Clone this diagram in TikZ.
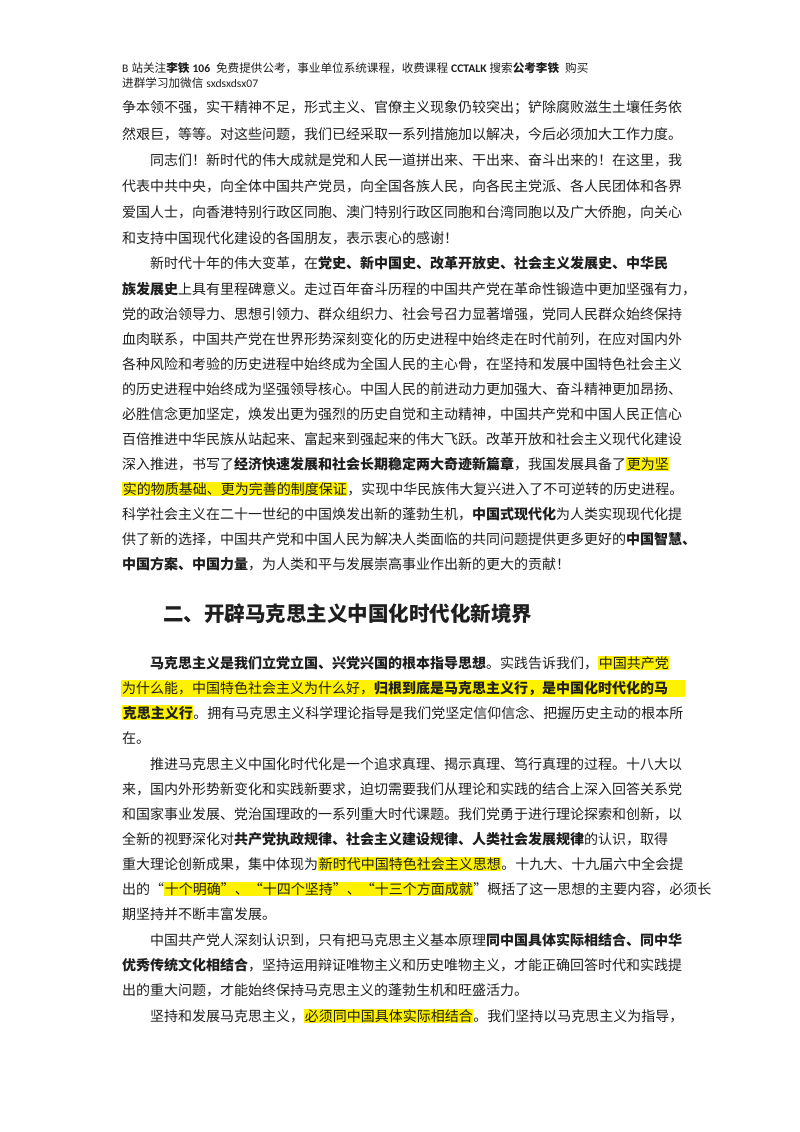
\documentclass[tikz,border=0pt]{standalone}
\usepackage{fontspec}
\usepackage{xcolor}
\setmainfont{Noto Sans CJK SC}
\newfontfamily\hdlat{Carlito}
\XeTeXlinebreaklocale "zh"
\XeTeXlinebreakskip=0pt plus 3pt
\newcommand\hl[1]{{\fboxsep=0.6pt\colorbox{yellow}{#1}}}
\newcommand\fl[3]{\node[txt] (#1) at (122,-#2) {\hbox to 562pt{#3}};}
\newcommand\il[3]{\node[txt] (#1) at (150,-#2) {\hbox to 534pt{#3}};}
\newcommand\nl[4]{\node[txt] (#1) at (#2,-#3) {#4};}
\begin{document}
\begin{tikzpicture}[x=1pt,y=1pt,txt/.style={anchor=base west,inner sep=0,font=\fontsize{14pt}{16pt}\selectfont,text=black!88}]
\useasboundingbox (0,0) rectangle (800,-1132);
\fill[white] (0,0) rectangle (800,-1132);
\nl{h1}{122}{72}{\fontsize{11.6pt}{13pt}\selectfont {\hdlat B}\hspace{3pt}站关注\textbf{李铁\hspace{3pt}{\hdlat 106}}\hspace{6pt}免费提供公考，事业单位系统课程，收费课程\hspace{3pt}\textbf{\hdlat CCTALK}\hspace{3pt}搜索\textbf{公考李铁}\hspace{6pt}购买}
\nl{h2}{122}{88}{\fontsize{11.6pt}{13pt}\selectfont 进群学习加微信\hspace{3pt}{\hdlat sxdsxdsx07}}
\fl{l1}{112}{争本领不强，实干精神不足，形式主义、官僚主义现象仍较突出；铲除腐败滋生土壤任务依}
\fl{l2}{139}{然艰巨，等等。对这些问题，我们已经采取一系列措施加以解决，今后必须加大工作力度。}
\il{l3}{165}{同志们！新时代的伟大成就是党和人民一道拼出来、干出来、奋斗出来的！在这里，我}
\fl{l4}{191}{代表中共中央，向全体中国共产党员，向全国各族人民，向各民主党派、各人民团体和各界}
\fl{l5}{217}{爱国人士，向香港特别行政区同胞、澳门特别行政区同胞和台湾同胞以及广大侨胞，向关心}
\nl{l6}{122}{243}{和支持中国现代化建设的各国朋友，表示衷心的感谢！}
\il{l7}{268}{新时代十年的伟大变革，在\textbf{党史、新中国史、改革开放史、社会主义发展史、中华民}}
\fl{l8}{294}{\textbf{族发展史}上具有里程碑意义。走过百年奋斗历程的中国共产党在革命性锻造中更加坚强有力，}
\fl{l9}{319}{党的政治领导力、思想引领力、群众组织力、社会号召力显著增强，党同人民群众始终保持}
\fl{l10}{344}{血肉联系，中国共产党在世界形势深刻变化的历史进程中始终走在时代前列，在应对国内外}
\fl{l11}{369}{各种风险和考验的历史进程中始终成为全国人民的主心骨，在坚持和发展中国特色社会主义}
\fl{l12}{394}{的历史进程中始终成为坚强领导核心。中国人民的前进动力更加强大、奋斗精神更加昂扬、}
\fl{l13}{419}{必胜信念更加坚定，焕发出更为强烈的历史自觉和主动精神，中国共产党和中国人民正信心}
\fl{l14}{444}{百倍推进中华民族从站起来、富起来到强起来的伟大飞跃。改革开放和社会主义现代化建设}
\fl{l15}{469}{深入推进，书写了\textbf{经济快速发展和社会长期稳定两大奇迹新篇章}，我国发展具备了\hl{更为坚}}
\fl{l16}{494}{\hl{实的物质基础、更为完善的制度保证}，实现中华民族伟大复兴进入了不可逆转的历史进程。}
\fl{l17}{519}{科学社会主义在二十一世纪的中国焕发出新的蓬勃生机，\textbf{中国式现代化}为人类实现现代化提}
\fl{l18}{544}{供了新的选择，中国共产党和中国人民为解决人类面临的共同问题提供更多更好的\textbf{中国智慧、}}
\nl{l19}{122}{569}{\textbf{中国方案、中国力量}，为人类和平与发展崇高事业作出新的更大的贡献！}
\nl{hd}{163}{621}{\fontsize{20.5pt}{24pt}\selectfont\bfseries 二、开辟马克思主义中国化时代化新境界}
\il{l20}{668}{\textbf{马克思主义是我们立党立国、兴党兴国的根本指导思想}。实践告诉我们，\hl{中国共产党}}
\fill[yellow] (121.4,-697) rectangle (684.6,-680.2);
\fl{l21}{693}{为什么能，中国特色社会主义为什么好，\textbf{归根到底是马克思主义行，是中国化时代化的马}}
\fl{l22}{718}{\hl{\textbf{克思主义行}}。拥有马克思主义科学理论指导是我们党坚定信仰信念、把握历史主动的根本所}
\nl{l23}{122}{743}{在。}
\il{l24}{769}{推进马克思主义中国化时代化是一个追求真理、揭示真理、笃行真理的过程。十八大以}
\fl{l25}{794}{来，国内外形势新变化和实践新要求，迫切需要我们从理论和实践的结合上深入回答关系党}
\fl{l26}{819}{和国家事业发展、党治国理政的一系列重大时代课题。我们党勇于进行理论探索和创新，以}
\fl{l27}{844}{全新的视野深化对\textbf{共产党执政规律、社会主义建设规律、人类社会发展规律}的认识，取得}
\fl{l28}{869}{重大理论创新成果，集中体现为\hl{新时代中国特色社会主义思想}。十九大、十九届六中全会提}
\fl{l29}{894}{出的“\hl{十个明确”、“十四个坚持”、“十三个方面成就}”概括了这一思想的主要内容，必须长}
\nl{l30}{122}{919}{期坚持并不断丰富发展。}
\il{l31}{945}{中国共产党人深刻认识到，只有把马克思主义基本原理\textbf{同中国具体实际相结合、同中华}}
\fl{l32}{970}{\textbf{优秀传统文化相结合}，坚持运用辩证唯物主义和历史唯物主义，才能正确回答时代和实践提}
\nl{l33}{122}{995}{出的重大问题，才能始终保持马克思主义的蓬勃生机和旺盛活力。}
\il{l34}{1021}{坚持和发展马克思主义，\hl{必须同中国具体实际相结合}。我们坚持以马克思主义为指导，}
\end{tikzpicture}
\end{document}
